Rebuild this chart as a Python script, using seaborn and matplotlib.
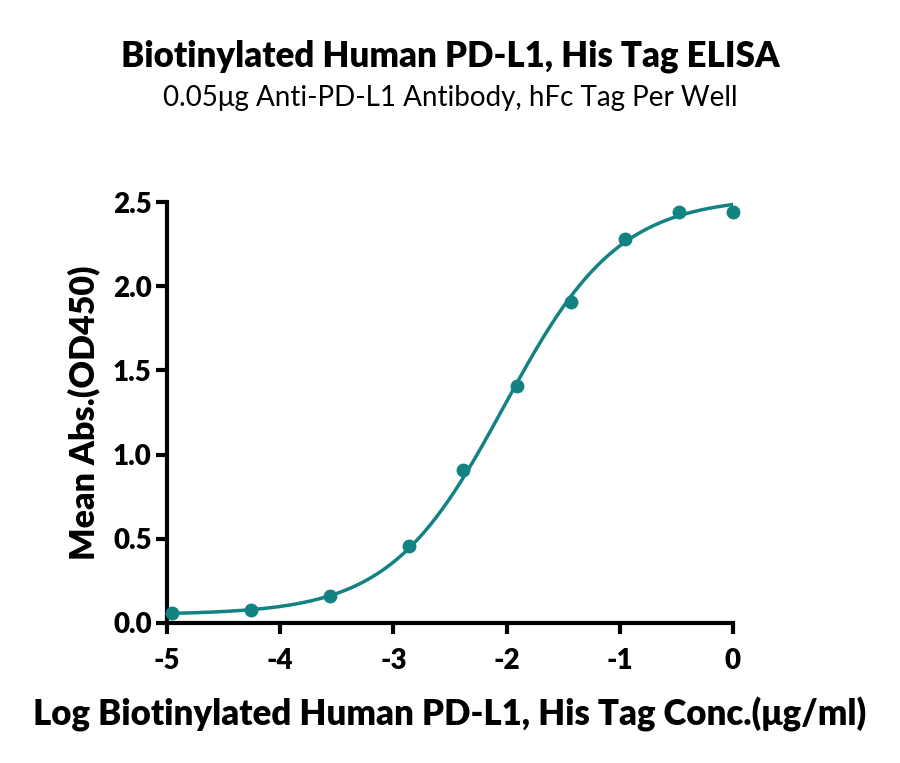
import numpy as np
import pandas as pd
import matplotlib
matplotlib.use("Agg")
import matplotlib.pyplot as plt
import seaborn as sns

# Data
log_conc = [-4.960, -4.261, -3.562, -2.863, -2.386, -1.908, -1.431, -0.954, -0.477, 0.0]
mean_abs = [0.059, 0.075, 0.158, 0.455, 0.907, 1.407, 1.908, 2.280, 2.441, 2.440]
# Estimated 4PL fit parameters of the drawn curve
fit_bottom = 0.05
fit_top = 2.53
fit_log_ec50 = -2.02
fit_hill = 0.86

x_ticks = [-5, -4, -3, -2, -1, 0]
y_ticks = [0.0, 0.5, 1.0, 1.5, 2.0, 2.5]

title = "Biotinylated Human PD-L1, His Tag ELISA"
subtitle = "0.05μg Anti-PD-L1 Antibody, hFc Tag Per Well"
xlabel = "Log Biotinylated Human PD-L1, His Tag Conc.(μg/ml)"
ylabel = "Mean Abs.(OD450)"

color = "#138282"

sns.set_theme(style="ticks", rc={"text.color": "black", "axes.labelcolor": "black",
                                 "xtick.color": "black", "ytick.color": "black",
                                 "axes.edgecolor": "black"})
plt.rcParams['font.family'] = ['Lato', 'DejaVu Sans']

df = pd.DataFrame({"x": log_conc, "y": mean_abs})
xs = np.linspace(-5, 0, 400)
ys = fit_bottom + (fit_top - fit_bottom) / (1 + 10 ** ((fit_log_ec50 - xs) * fit_hill))
curve = pd.DataFrame({"x": xs, "y": ys})

fig = plt.figure(figsize=(9, 7.63), dpi=100)
ax = fig.add_axes([0.1856, 0.1835, 0.6288, 0.5517])

sns.lineplot(data=curve, x="x", y="y", ax=ax, color=color, linewidth=2.5)
sns.scatterplot(data=df, x="x", y="y", ax=ax, color=color, s=100, edgecolor=color,
                linewidth=0, zorder=3, clip_on=False)

ax.set_xlim(-5, 0)
ax.set_ylim(0, 2.5)
ax.set_xticks(x_ticks)
ax.set_xticklabels([str(t) for t in x_ticks])
ax.set_yticks(y_ticks)
ax.set_yticklabels([f"{t:.1f}" for t in y_ticks])

for side in ["top", "right"]:
    ax.spines[side].set_visible(False)
for side in ["left", "bottom"]:
    ax.spines[side].set_linewidth(3)
    ax.spines[side].set_color("black")
    ax.spines[side].set_capstyle("projecting")
ax.tick_params(axis="both", direction="out", length=8, width=3, color="black",
               labelcolor="black", labelsize=20, pad=3)
ax.tick_params(axis="x", pad=10)
for lab in ax.get_xticklabels() + ax.get_yticklabels():
    lab.set_fontweight("heavy")

ax.set_xlabel(xlabel, fontsize=25, fontweight="heavy", color="black")
ax.set_ylabel(ylabel, fontsize=24.5, fontweight="heavy", color="black")
ax.xaxis.set_label_coords(0.5, -0.175)
ax.yaxis.set_label_coords(-0.118, 0.5)

fig.text(0.5, 0.926, title, ha="center", va="center", fontsize=25, fontweight="heavy", color="black")
fig.text(0.5, 0.871, subtitle, ha="center", va="center", fontsize=20, color="black")

fig.savefig("out.png", dpi=100, facecolor="white")
